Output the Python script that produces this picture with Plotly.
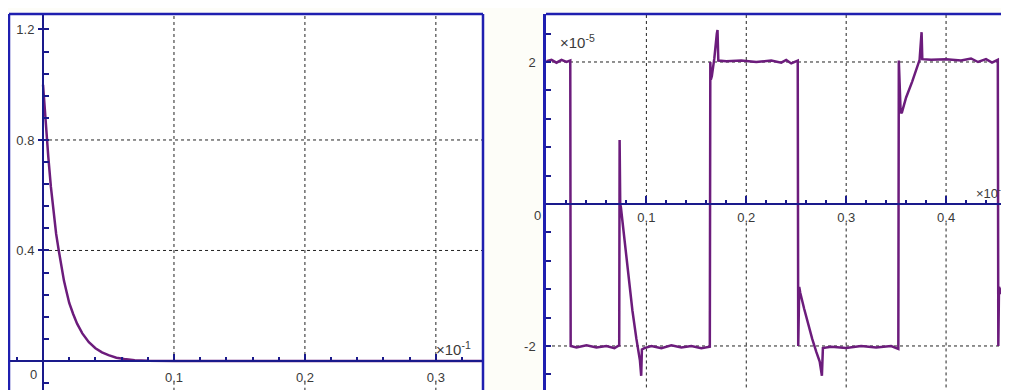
import plotly.graph_objects as go

# ---------------- data ----------------
# left panel: decaying response
left_t = [0.000, 0.002, 0.004, 0.006, 0.008, 0.010, 0.012, 0.014, 0.016, 0.018,
          0.020, 0.023, 0.026, 0.030, 0.035, 0.040, 0.045, 0.050, 0.056, 0.062,
          0.070, 0.080, 0.090, 0.100, 0.200, 0.336]
left_v = [1.00, 0.86, 0.74, 0.63, 0.54, 0.46, 0.40, 0.34, 0.29, 0.25,
          0.21, 0.17, 0.135, 0.10, 0.068, 0.046, 0.031, 0.021, 0.012, 0.007,
          0.003, 0.001, 0.0005, 0.0, 0.0, 0.0]

# right panel: switching signal (units of 1e-5)
right_t = [0.000, 0.005, 0.010, 0.015, 0.020, 0.0238,
           0.0242, 0.030, 0.040, 0.050, 0.060, 0.068, 0.0728,
           0.0732, 0.0738, 0.0745, 0.078, 0.082, 0.086, 0.090, 0.0935, 0.0948, 0.0955,
           0.098, 0.105, 0.115, 0.125, 0.135, 0.145, 0.155, 0.1635,
           0.1640, 0.1645, 0.1655, 0.168, 0.1705, 0.1712, 0.1720, 0.180, 0.195, 0.210,
           0.225, 0.235, 0.240, 0.245, 0.2515,
           0.2520, 0.2530, 0.2540, 0.258, 0.262, 0.266, 0.270, 0.2735, 0.2757, 0.2767,
           0.285, 0.300, 0.315, 0.330, 0.345, 0.3522,
           0.3527, 0.3545, 0.3556, 0.360, 0.366, 0.3735, 0.3755, 0.3762, 0.385, 0.400,
           0.415, 0.425, 0.432, 0.440, 0.446, 0.4518,
           0.4523, 0.4530, 0.4575, 0.463]
right_v = [2.01, 2.03, 1.99, 2.03, 2.00, 2.02,
           -2.00, -2.02, -1.99, -2.02, -2.00, -2.03, -1.99,
           0.90, 0.00, -0.05, -0.50, -1.05, -1.50, -1.90, -2.20, -2.42, -2.05,
           -2.03, -2.00, -2.03, -1.99, -2.02, -2.00, -2.03, -2.01,
           2.00, 1.75, 1.80, 2.05, 2.40, 2.45, 2.02, 2.01, 2.02, 2.00,
           2.02, 1.99, 2.03, 1.98, 2.02,
           -2.00, -1.17, -1.25, -1.48, -1.70, -1.90, -2.08, -2.22, -2.42, -2.03,
           -2.01, -2.03, -2.00, -2.02, -2.00, -2.04,
           2.02, 1.30, 1.28, 1.50, 1.72, 2.03, 2.42, 2.04, 2.03, 2.04,
           2.02, 2.05, 2.00, 2.04, 1.99, 2.03,
           -2.00, -1.17, -1.32, -1.48]

# tick labels
left_xticks = [0.1, 0.2, 0.3]
left_xlabels = ["0.1", "0.2", "0.3"]
left_yticks = [0.4, 0.8, 1.2]
left_ylabels = ["0.4", "0.8", "1.2"]
right_xticks = [0.1, 0.2, 0.3, 0.4]
right_xlabels = ["0.1", "0.2", "0.3", "0.4"]
right_yticks = [-2, 2]
right_ylabels = ["-2", "2"]

# grid positions
left_xgrid = [0.1, 0.2, 0.3]
left_ygrid = [0.4, 0.8]
right_xgrid = [0.1, 0.2, 0.3, 0.4]
right_ygrid = [-2, 2]

# ---------------- styling / layout ----------------
OFF = 8  # page body margin
W, H = 1009 - OFF, 390 - OFF
L_XR = [-0.026, 0.336]
L_YR = [-0.105, 1.256]
R_XR = [-0.0005, 0.463]
R_YR = [-2.62, 2.676]
L_XD = [(9 - OFF) / W, (483 - OFF) / W]
R_XD = [(546 - OFF) / W, 1.0]
YD = [0.0, 1 - (14 - OFF) / H]
L_LABEL_GAP = -0.075   # gridline gap under the x tick labels (data units)
R_LABEL_GAP = -0.26

FRAME = "#1f1fb0"
AXIS = "#1a1a8c"
CURVE = "#6c1c7c"
GRID = "#222222"
TXT = "#3a3a3a"
FONT = dict(family="Liberation Sans, Arial, sans-serif", size=13, color=TXT)
SFONT = dict(family="Liberation Sans, Arial, sans-serif", size=15, color=TXT)
EFONT = dict(family="Liberation Sans, Arial, sans-serif", size=13, color=TXT)


def frac(v, rng, dom):
    return dom[0] + (v - rng[0]) / (rng[1] - rng[0]) * (dom[1] - dom[0])


fig = go.Figure()
fig.add_trace(go.Scatter(x=left_t, y=left_v, mode="lines",
                         line=dict(color=CURVE, width=2.5),
                         xaxis="x", yaxis="y", showlegend=False, hoverinfo="skip"))
fig.add_trace(go.Scatter(x=right_t, y=right_v, mode="lines",
                         line=dict(color=CURVE, width=2.5),
                         xaxis="x2", yaxis="y2", showlegend=False, hoverinfo="skip"))

GL = dict(color=GRID, width=1, dash="3px,3px")
shapes = []
for g in left_xgrid:
    shapes.append(dict(type="line", xref="x", yref="y", x0=g, x1=g, y0=0, y1=L_YR[1],
                       line=GL, layer="below"))
    shapes.append(dict(type="line", xref="x", yref="y", x0=g, x1=g, y0=L_LABEL_GAP, y1=L_YR[0],
                       line=GL, layer="below"))
for g in left_ygrid:
    shapes.append(dict(type="line", xref="x", yref="y", x0=0, x1=L_XR[1], y0=g, y1=g,
                       line=GL, layer="below"))
for g in right_xgrid:
    shapes.append(dict(type="line", xref="x2", yref="y2", x0=g, x1=g, y0=0, y1=R_YR[1],
                       line=GL, layer="below"))
    shapes.append(dict(type="line", xref="x2", yref="y2", x0=g, x1=g, y0=R_LABEL_GAP, y1=R_YR[0],
                       line=GL, layer="below"))
for g in right_ygrid:
    shapes.append(dict(type="line", xref="x2 domain", yref="y2", x0=0, x1=1, y0=g, y1=g,
                       line=GL, layer="below"))

# frames
fw = 2.5
shapes += [
    dict(type="line", xref="x domain", yref="y domain", x0=0, x1=1, y0=1, y1=1, line=dict(color=FRAME, width=fw)),
    dict(type="line", xref="x domain", yref="y domain", x0=0, x1=0, y0=0, y1=1, line=dict(color=FRAME, width=fw)),
    dict(type="line", xref="x domain", yref="y domain", x0=1, x1=1, y0=0, y1=1, line=dict(color=FRAME, width=fw)),
    dict(type="line", xref="x2 domain", yref="y2 domain", x0=0, x1=1, y0=1, y1=1, line=dict(color=FRAME, width=fw)),
]

annotations = [
    dict(text="0", xref="x", yref="y", x=0, y=0, xanchor="right", yanchor="top",
         xshift=-4, yshift=-4, showarrow=False, font=FONT),
    dict(text="0", xref="x2", yref="y2", x=0, y=0, xanchor="right", yanchor="top",
         xshift=-4, yshift=-2, showarrow=False, font=FONT),
    dict(text="×10<sup>-1</sup>", xref="x", yref="y", x=0.3, y=0, xanchor="left", yanchor="bottom",
         xshift=-2, yshift=1, showarrow=False, font=SFONT),
    dict(text="×10<sup>-5</sup>", xref="x2", yref="y2", x=0.012, y=2.12, xanchor="left", yanchor="bottom",
         showarrow=False, font=SFONT),
    dict(text="×10<sup>-1</sup>", xref="x2 domain", yref="y2", x=1.0, y=0, xanchor="right", yanchor="bottom",
         xshift=-1, yshift=1, showarrow=False, font=EFONT),
]

common = dict(showgrid=False, zeroline=False, tickfont=FONT, fixedrange=True)

fig.update_layout(
    width=W, height=H,
    margin=dict(l=0, r=0, t=0, b=0),
    paper_bgcolor="#fdfdf8", plot_bgcolor="#ffffff",
    showlegend=False,
    shapes=shapes, annotations=annotations,
    xaxis=dict(domain=L_XD, range=L_XR, anchor="free", position=frac(0, L_YR, YD),
               showline=True, linecolor=AXIS, linewidth=2,
               tickmode="array", tickvals=left_xticks, ticktext=left_xlabels,
               ticks="inside", ticklen=6, tickwidth=2, tickcolor=AXIS, ticklabelstandoff=4,
               minor=dict(tickmode="linear", tick0=0, dtick=0.02, ticks="inside", ticklen=3,
                          tickwidth=2, tickcolor=AXIS),
               **common),
    yaxis=dict(domain=YD, range=L_YR, anchor="free", position=frac(0, L_XR, L_XD),
               showline=True, linecolor=AXIS, linewidth=2,
               tickmode="array", tickvals=left_yticks, ticktext=left_ylabels,
               ticks="outside", ticklen=4, tickwidth=2, tickcolor=AXIS, ticklabelstandoff=1,
               minor=dict(tickmode="linear", tick0=0, dtick=0.08, ticks="inside", ticklen=5,
                          tickwidth=2, tickcolor=AXIS),
               **common),
    xaxis2=dict(domain=R_XD, range=R_XR, anchor="free", position=frac(0, R_YR, YD),
                showline=True, linecolor=AXIS, linewidth=2,
                tickmode="array", tickvals=right_xticks, ticktext=right_xlabels,
                ticks="inside", ticklen=7, tickwidth=2, tickcolor=AXIS, ticklabelstandoff=1,
                minor=dict(tickmode="linear", tick0=0, dtick=0.02, ticks="inside", ticklen=3,
                           tickwidth=2, tickcolor=AXIS),
                **common),
    yaxis2=dict(domain=YD, range=R_YR, anchor="x2",
                showline=True, linecolor=FRAME, linewidth=2.5,
                tickmode="array", tickvals=right_yticks, ticktext=right_ylabels,
                ticks="inside", ticklen=5, tickwidth=2, tickcolor=AXIS, ticklabelstandoff=5,
                minor=dict(tickmode="linear", tick0=0, dtick=0.4, ticks="inside", ticklen=5,
                           tickwidth=2, tickcolor=AXIS),
                **common),
)

fig.write_html("out.html")
